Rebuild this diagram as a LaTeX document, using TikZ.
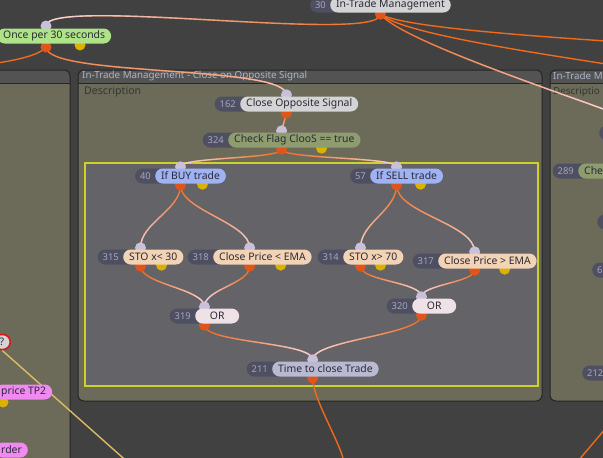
\documentclass[tikz,border=0pt]{standalone}
\usepackage{fontspec}
\setmainfont{Noto Sans}
\usepackage{tikz}
\usetikzlibrary{positioning, calc, fadings}
\definecolor{canvas}{HTML}{414141}
\definecolor{pnlbody}{HTML}{6C6B5A}
\definecolor{pnlhead}{HTML}{535353}
\definecolor{pnlline}{HTML}{262626}
\definecolor{headtxt}{HTML}{AAB6CA}
\definecolor{desctxt}{HTML}{37372F}
\definecolor{grpfill}{HTML}{636368}
\definecolor{grpline}{HTML}{CDD12A}
\definecolor{tagfill}{HTML}{4F4F62}
\definecolor{tagtxt}{HTML}{A5A5BF}
\definecolor{lbltxt}{HTML}{2A2A36}
\definecolor{pinin}{HTML}{C9C1DC}
\definecolor{pinout}{HTML}{E0561A}
\definecolor{pinyel}{HTML}{DCB200}
\definecolor{wireor}{HTML}{F06A1C}
\definecolor{wirepl}{HTML}{EDD8E4}
\definecolor{cgray}{HTML}{D4D4D6}
\definecolor{cgreen}{HTML}{AEE487}
\definecolor{colive}{HTML}{8E9C6F}
\definecolor{cblue}{HTML}{9FB3F4}
\definecolor{cpeach}{HTML}{F2D3B5}
\definecolor{cpink}{HTML}{EFE2E6}
\definecolor{clav}{HTML}{B9B9D2}
\definecolor{cmag}{HTML}{F189F2}
\definecolor{cred}{HTML}{E01414}
\definecolor{lineyel}{HTML}{DDBB66}
\tikzfading[name=fadedown, top color=transparent!100, bottom color=transparent!0]
\tikzfading[name=fadeleft, right color=transparent!100, left color=transparent!0]
\tikzfading[name=faderight, left color=transparent!100, right color=transparent!0]
\pgfdeclarelayer{panels}
\pgfdeclarelayer{wires}
\pgfdeclarelayer{pins}
\pgfsetlayers{panels,wires,pins,main}
\tikzset{
  gnode/.style   = {fill=#1, text=lbltxt, rounded corners=7.5pt, minimum height=15pt,
                    inner xsep=6pt, inner ysep=0pt, font=\fontsize{10.4}{12}\selectfont,
                    anchor=west},
  tagbox/.style  = {fill=tagfill, text=tagtxt, rounded corners=7.5pt, minimum height=15pt,
                    inner xsep=5pt, inner ysep=0pt, font=\fontsize{9.4}{11}\selectfont,
                    execute at end node=\hspace*{11pt}},
  pin/.style     = {circle, fill=#1, inner sep=0pt, minimum size=11pt},
  wireplain/.style = {draw=wireor, line width=1.4pt},
  wire/.style    = {wireplain, postaction={draw=wirepl, line width=1.4pt, path fading=#1}},
  wire/.default  = fadedown,
  head/.style    = {font=\fontsize{9.8}{11}\selectfont, text=headtxt, anchor=west, inner sep=0pt},
  desc/.style    = {font=\fontsize{10.6}{12}\selectfont, text=desctxt, anchor=west, inner sep=0pt}
}

\begin{document}
\begin{tikzpicture}[x=1pt, y=1pt]
  \useasboundingbox (0,0) rectangle (603,-458);

  % panels and the group frame
  \begin{pgfonlayer}{panels}
    \fill[canvas] (0,0) rectangle (603,-458);
    \foreach \xa/\xb/\yb in {-20/70/-480, 78/542/-401, 550/650/-401}{
      \begin{scope}
        \clip[rounded corners=6pt] (\xa,-70) rectangle (\xb,\yb);
        \fill[pnlbody] (\xa,-70) rectangle (\xb,\yb);
        \fill[pnlhead] (\xa,-70) rectangle (\xb,-83);
        \draw[pnlline] (\xa,-83) -- (\xb,-83);
      \end{scope}
      \draw[pnlline, line width=1pt, rounded corners=6pt] (\xa,-70) rectangle (\xb,\yb);
    }
    \node[head] (ttl) at (82,-76) {In-Trade Management - Close on Opposite Signal};
    \node[desc] (dsc) at (84,-92) {Description};
    \node[head] (ttlr) at (553,-76) {In-Trade M};
    \node[desc, font=\fontsize{9.8}{12}\selectfont] (dscr) at (553,-92) {Descriptio};
    \draw[grpline, fill=grpfill, line width=2.5pt] (85,-163) rectangle (538,-386);
  \end{pgfonlayer}

  % labels
  \node[gnode=cgray]  (n30)  at (330,-5)   {In-Trade Management};
  \node[gnode=cgreen] (nonce) at (-3,-36)  {Once per 30 seconds};
  \node[gnode=cgray]  (n162) at (240,-104) {Close Opposite Signal};
  \node[gnode=colive] (n324) at (228,-140) {Check Flag ClooS == true};
  \node[gnode=cblue]  (n40)  at (155,-176) {If BUY trade};
  \node[gnode=cblue]  (n57)  at (370,-176) {If SELL trade};
  \node[gnode=cpeach] (n315) at (123,-257) {STO x< 30};
  \node[gnode=cpeach] (n318) at (213,-257) {Close Price < EMA};
  \node[gnode=cpeach] (n314) at (343,-257) {STO x> 70};
  \node[gnode=cpeach] (n317) at (438,-261) {Close Price > EMA};
  \node[gnode=cpink, minimum width=44pt] (n319) at (195,-316) {OR};
  \node[gnode=cpink, minimum width=44pt] (n320) at (412,-306) {OR};
  \node[gnode=clav]   (n211) at (272,-369) {Time to close Trade};
  \node[gnode=colive, text width=30pt, align=left] (n289) at (578,-171) {Che};
  \node[gnode=cgray, draw=cred, line width=1.5pt, anchor=east] (nq) at (11,-342) {?};
  \node[gnode=cmag]   (ntp2) at (-5,-392)  {price TP2};
  \node[gnode=cmag]   (nord) at (-5,-450)  {rder};

  % number tags and pins
  \begin{pgfonlayer}{pins}
    \foreach \n in {30,162,324,40,57,315,318,314,317,319,320,211,289}
      \node[tagbox, left=-12pt of n\n] (t\n) {\n};
    \node[tagbox, anchor=west] (tr1) at (599,-133) {};
    \node[tagbox, anchor=west] (tr2) at (597,-222) {};
    \node[tagbox, anchor=west] (t6) at (592,-270) {6};
    \node[tagbox, anchor=west] (t212) at (582,-373) {212};
    \foreach \n in {30,162,324,40,57,315,318,314,317,319,320,211}{
      \coordinate (c\n) at ($(t\n.west)!0.5!(n\n.east)$);
      \node[pin=pinin]  (i\n) at ($(c\n |- n\n.north)+(0,1.5)$) {};
      \node[pin=pinout] (o\n) at ($(c\n |- n\n.south)+(0,-1.5)$) {};
    }
    \node[pin=pinin]  (ionce) at (46,-26) {};
    \node[pin=pinout] (oonce) at (46,-47) {};
    \node[pin=pinyel] (yonce) at (80,-45) {};
    \foreach \n/\dx in {324/40, 40/22, 57/24, 315/21, 318/31, 314/20, 317/30}
      \node[pin=pinyel] (y\n) at ($(o\n)+(\dx,1)$) {};
    \node[pin=pinyel] (ytp2) at (3,-402) {};
  \end{pgfonlayer}

  % wires
  \coordinate (e1) at (606,-41);
  \coordinate (e2) at (606,-64);
  \coordinate (e3) at (606,-110);
  \coordinate (w1) at (-3,-63);
  \coordinate (b1) at (344,-462);
  \coordinate (r1) at (606,-428);
  \coordinate (r2) at (578,-461);
  \coordinate (yend) at (131,-465);
  \begin{pgfonlayer}{wires}
    \draw[wire=fadeleft] (o30.center) .. controls +(0,-30) and +(0,30) .. (ionce.center);
    \draw[wireplain] (o30.center) .. controls +(20,-12) and +(-90,6) .. (e1);
    \draw[wireplain] (o30.center) .. controls +(20,-18) and +(-90,14) .. (e2);
    \draw[wire=faderight] (o30.center) .. controls +(20,-25) and +(-60,22) .. (e3);
    \draw[wireplain] (oonce.center) .. controls +(-6,-8) and +(20,3) .. (w1);
    \draw[wire] (oonce.center) .. controls +(0,-30) and +(0,30) .. (i162.center);
    \draw[wire] (o162.center) -- (i324.center);
    \draw[wire=fadeleft]  (o324.center) .. controls +(0,-10) and +(0,10) .. (i40.center);
    \draw[wire=faderight] (o324.center) .. controls +(0,-10) and +(0,10) .. (i57.center);
    \draw[wire] (o40.center) .. controls +(0,-25) and +(0,25) .. (i315.center);
    \draw[wire] (o40.center) .. controls +(0,-25) and +(0,25) .. (i318.center);
    \draw[wire] (o57.center) .. controls +(0,-25) and +(0,25) .. (i314.center);
    \draw[wire] (o57.center) .. controls +(0,-28) and +(0,28) .. (i317.center);
    \draw[wire=faderight] (o315.center) .. controls +(0,-18) and +(0,18) .. (i319.center);
    \draw[wire=fadeleft]  (o318.center) .. controls +(0,-18) and +(0,18) .. (i319.center);
    \draw[wire=faderight] (o314.center) .. controls +(0,-15) and +(0,15) .. (i320.center);
    \draw[wire=fadeleft]  (o317.center) .. controls +(0,-12) and +(0,12) .. (i320.center);
    \draw[wire=faderight] (o319.center) .. controls +(0,-18) and +(0,18) .. (i211.center);
    \draw[wire=fadeleft]  (o320.center) .. controls +(0,-20) and +(0,20) .. (i211.center);
    \draw[wireplain] (o211.center) .. controls +(0,-20) and +(-4,20) .. (b1);
    \draw[wireplain] (r1) -- (r2);
    \draw[lineyel, line width=1.4pt] (nq.south) -- (yend);
  \end{pgfonlayer}
\end{tikzpicture}
\end{document}
